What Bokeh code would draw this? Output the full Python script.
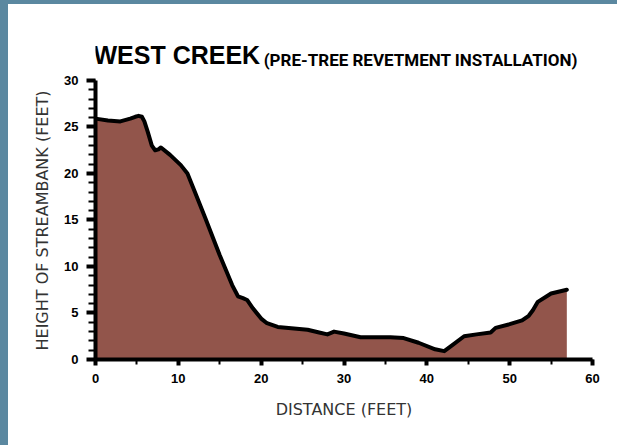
from bokeh.plotting import figure
from bokeh.models import (Range1d, SingleIntervalTicker, Label, Title, GlobalInlineStyleSheet)
from bokeh.embed import file_html
from bokeh.resources import INLINE

# Streambank profile (distance in feet, height in feet)
distance = [0, 1.5, 3, 4.2, 4.8, 5.2, 5.6, 5.9, 6.3, 6.8, 7.2, 7.6, 7.9, 9, 10.3, 11.1, 12, 13.3, 15, 16.5,
            17.2, 17.8, 18.3, 19, 20, 20.7, 22, 25.6, 27, 28, 28.8, 30, 32, 35.6, 37.2, 39,
            41, 42.1, 43, 44.5, 46, 47.7, 48.3, 50, 51.5, 52.3, 52.8, 53.4, 55, 56.9]
height = [25.9, 25.7, 25.6, 25.9, 26.1, 26.2, 26.1, 25.6, 24.5, 23.0, 22.5, 22.6, 22.8, 22.0, 20.9, 20.0, 18.0,
          15.1, 11.2, 8.0, 6.8, 6.6, 6.4, 5.5, 4.4, 3.9, 3.5, 3.2, 2.9, 2.7, 3.0, 2.8, 2.4,
          2.4, 2.3, 1.8, 1.1, 0.9, 1.5, 2.5, 2.7, 2.9, 3.4, 3.8, 4.2, 4.7, 5.3, 6.2, 7.1, 7.5]

title_main = "WEST CREEK"
title_sub = "(PRE-TREE REVETMENT INSTALLATION)"
x_label = "DISTANCE (FEET)"
y_label = "HEIGHT OF STREAMBANK (FEET)"

css = ("html{background:#5B88A0;overflow:hidden;}"
       "body{margin:4px 0 0 8px !important;background:#ffffff;min-height:calc(100vh - 4px);overflow:hidden;}")

p = figure(frame_width=497, frame_height=325, output_backend="svg", toolbar_location=None,
           x_range=Range1d(0, 60), y_range=Range1d(0, 34.946),
           min_border_left=87, min_border_top=30, min_border_right=25, min_border_bottom=80)
p.stylesheets = [GlobalInlineStyleSheet(css=css)]
p.outline_line_color = None
p.grid.visible = False
p.background_fill_color = "white"
p.border_fill_color = "white"

p.varea(x=distance, y1=0, y2=height, fill_color="#92554B", fill_alpha=1)
p.line(x=distance, y=height, line_color="black", line_width=4, line_join="round", line_cap="round")

xa = p.xaxis[0]
xa.ticker = SingleIntervalTicker(interval=10, num_minor_ticks=2)
ya = p.yaxis[0]
ya.ticker = SingleIntervalTicker(interval=5, num_minor_ticks=5)
ya.bounds = (0, 30)

for ax in (xa, ya):
    ax.axis_line_width = 4
    ax.axis_line_color = "black"
    ax.major_tick_line_width = 4
    ax.minor_tick_line_width = 2
    ax.major_tick_line_color = "black"
    ax.minor_tick_line_color = "black"
    ax.major_tick_in = 0
    ax.minor_tick_in = 0
    ax.major_label_text_font = "Liberation Sans"
    ax.major_label_text_font_style = "bold"
    ax.major_label_text_font_size = "13px"
    ax.major_label_text_color = "black"
    ax.axis_label_text_font = "DejaVu Sans"
    ax.axis_label_text_font_style = "normal"
    ax.axis_label_text_font_size = "16px"
    ax.axis_label_text_color = "#333333"

xa.major_tick_out = 6
xa.minor_tick_out = 5
xa.major_label_standoff = 8
xa.axis_label = x_label
xa.axis_label_standoff = 14

ya.major_tick_out = 9
ya.minor_tick_out = 7
ya.major_label_standoff = 8

ytitle = Title(text=y_label, align="left", offset=9, standoff=19,
               text_font="DejaVu Sans", text_font_style="normal", text_font_size="16px",
               text_color="#333333")
p.add_layout(ytitle, "left")

t1 = Label(x=0, y=32.73, x_offset=-2, text=title_main, text_font="Liberation Sans", text_font_style="bold",
           text_font_size="25px", text_color="black", text_baseline="alphabetic")
t2 = Label(x=20.3, y=32.25, text=title_sub, text_font="Roboto", text_font_style="bold",
           text_font_size="17px", text_color="black", text_baseline="alphabetic")
p.add_layout(t1)
p.add_layout(t2)

open("out.html", "w").write(file_html(p, INLINE))
